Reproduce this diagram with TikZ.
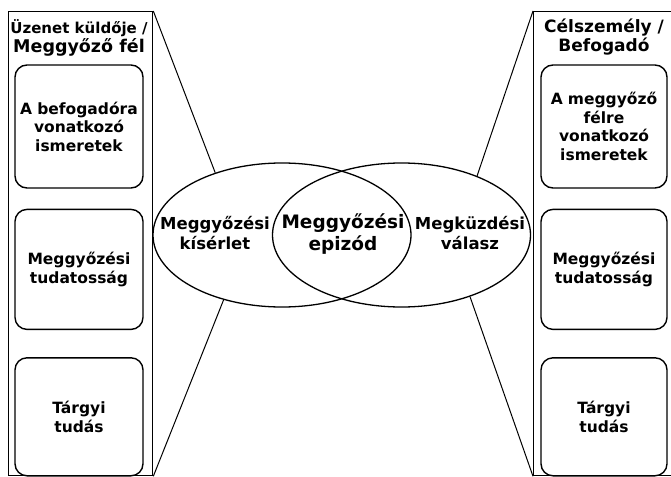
\documentclass[tikz,border=0pt]{standalone}
\usepackage{fontspec}
\setmainfont{DejaVu Sans}
\usetikzlibrary{shapes.geometric,positioning}

\begin{document}
\begin{tikzpicture}[
    x=1pt,y=-1pt,
    node distance=20pt,
    panel/.style={rectangle,draw,line width=1.3pt,anchor=north west,inner sep=0pt,
                  minimum height=464pt},
    box/.style={rectangle,draw,rounded corners=12pt,line width=1.4pt,inner sep=0pt,
                text width=124pt,align=center,font=\fontsize{15.5}{18.5}\selectfont\bfseries},
    oval/.style={ellipse,draw,line width=1.3pt,inner sep=0pt,minimum width=258pt,minimum height=144pt},
    title/.style={align=center,font=\bfseries},
    txt/.style={align=center,font=\fontsize{16.5}{19.5}\selectfont\bfseries},
    edge/.style={line width=1pt}
]
\useasboundingbox (0,0) rectangle (671,476);

% Sender side
\node[panel,minimum width=144pt] (lpanel) at (8,11) {};
\node[title] (ltitle) at (79,38) {\fontsize{15}{19}\selectfont Üzenet küldője /\\
    \fontsize{17.5}{20}\selectfont Meggyőző fél};
\node[box,minimum width=128pt,minimum height=123pt] (lknow) at (79,126.5) {A befogadóra\\vonatkozó\\ismeretek};
\node[box,minimum width=128pt,minimum height=120pt,below=20pt of lknow] (laware) {Meggyőzési\\tudatosság};
\node[box,minimum width=128pt,minimum height=118pt,below=27pt of laware] (ltopic) {Tárgyi\\tudás};

% Target side
\node[panel,minimum width=143pt] (rpanel) at (533,11) {};
\node[title] (rtitle) at (604,37) {\fontsize{17}{22}\selectfont Célszemély /\\
    \fontsize{17}{22}\selectfont Befogadó};
\node[box,minimum width=126pt,minimum height=123pt] (rknow) at (604,126.5) {A meggyőző\\félre\\vonatkozó\\ismeretek};
\node[box,minimum width=126pt,minimum height=120pt,below=20pt of rknow] (raware) {Meggyőzési\\tudatosság};
\node[box,minimum width=126pt,minimum height=118pt,below=27pt of raware] (rtopic) {Tárgyi\\tudás};

% Episode
\node[oval] (lell) at (282,235) {};
\node[oval] (rell) at (401.5,235) {};
\node[txt] (attempt) at (215,233) {Meggyőzési\\kísérlet};
\node[txt,font=\fontsize{18.5}{22}\selectfont\bfseries] (episode) at (343,234) {Meggyőzési\\epizód};
\node[txt] (coping) at (470,233) {Megküzdési\\válasz};

\draw[edge] (lpanel.north east) -- (lell.137);
\draw[edge] (lpanel.south east) -- (lell.228);
\draw[edge] (rpanel.north west) -- (rell.38);
\draw[edge] (rpanel.south west) -- (rell.318);
\end{tikzpicture}
\end{document}
